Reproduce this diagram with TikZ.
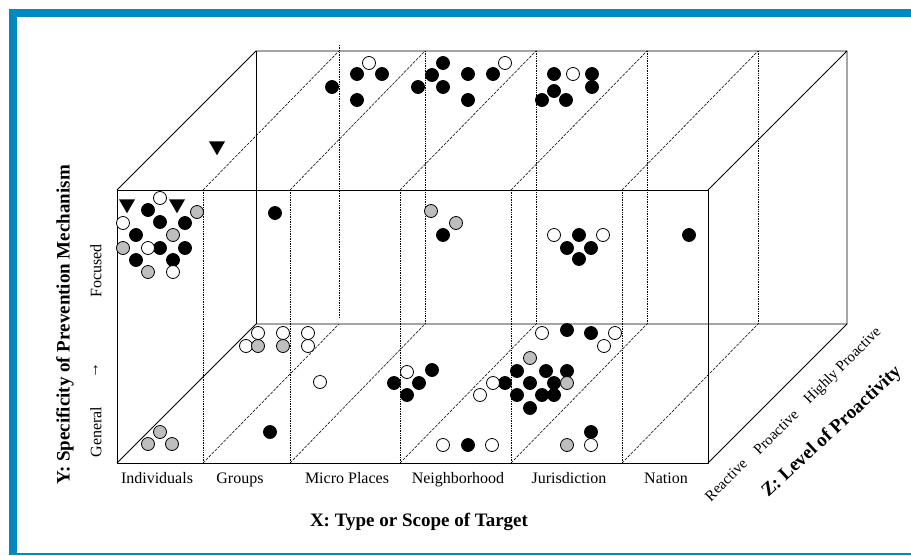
\documentclass[tikz,border=0pt]{standalone}
\usepackage{fontspec}
\setmainfont{Liberation Serif}
\usetikzlibrary{shapes.geometric}
\definecolor{frameblue}{RGB}{0,137,190}
\definecolor{dotgray}{RGB}{190,190,190}
\begin{document}
\begin{tikzpicture}[x=1pt,y=-1pt,
  edge/.style={line width=0.9pt, line join=round},
  vdiv/.style={line width=0.7pt, densely dotted},
  ddiv/.style={line width=0.55pt, dash pattern=on 3pt off 1.2pt},
  dot/.style={circle, draw=black, line width=0.8pt, minimum size=13pt, inner sep=0pt},
  bk/.style={dot, fill=black},
  wh/.style={dot, fill=white},
  gr/.style={dot, fill=dotgray},
  tri/.style={regular polygon, regular polygon sides=3, shape border rotate=180, fill=black, minimum size=18.5pt, inner sep=0pt},
  xlab/.style={font=\fontsize{16}{18}\selectfont, anchor=base},
  zlab/.style={font=\fontsize{15}{17}\selectfont, rotate=45},
  title/.style={font=\fontsize{19}{21}\selectfont\bfseries}
]
\useasboundingbox (0,0) rectangle (911,555);
% frame
\fill[frameblue] (9,9) rectangle (911,17);
\fill[frameblue] (9,9) rectangle (17,555);
\fill[frameblue] (9,552.5) rectangle (911,555);

\foreach \i/\f/\b in {0/117/256,1/203/339,2/290/425,3/400/536,4/511/647,5/622/758,6/708/847} {
  \coordinate (ft\i) at (\f,190);
  \coordinate (fb\i) at (\f,463);
  \coordinate (bt\i) at (\b,51);
  \coordinate (bb\i) at (\b,324);
}
\coordinate (extop) at (339,45);
\coordinate (exbot) at (339,318);

% dividers
\foreach \i in {1,...,5} {
  \draw[vdiv] (ft\i) -- (fb\i);
  \draw[ddiv] (ft\i) -- (bt\i);
  \draw[ddiv] (fb\i) -- (bb\i);
}
\foreach \i in {2,...,5} {\draw[vdiv] (bt\i) -- (bb\i);}
\draw[vdiv] (extop) -- (exbot);

% box edges
\draw[edge] (fb0) -- (ft0) -- (ft6) -- (fb6) -- cycle;
\draw[edge] (ft0) -- (bt0) -- (bt6) -- (ft6);
\draw[edge] (bt6) -- (bb6) -- (fb6);
\draw[edge] (fb0) -- (bb0) -- (bb6);
\draw[line width=0.7pt] (bt0) -- (bb0);

% triangles
\node[tri] (tA) at (127,204) {};
\node[tri] (tB) at (177,204) {};
\node[tri] (tC) at (217,146) {};

% black dots
\foreach \x/\y [count=\n] in {148/210,160/222,185/223,136/235,160/248,185/248,136/260,173/260,
  275/213,
  332/87,357/74,382/74,357/100,418/87,443/63,432/75,443/87,468/74,468/100,493/74,
  554/74,592/74,592/87,554/91,542/100,566/100,
  443/235,579/235,567/248,591/248,579/259,689/235,
  432/370,394/383,419/383,407/395,505/383,
  517/371,546/371,567/371,530/383,554/383,517/395,542/395,554/395,530/408,
  567/330,591/333,468/445,591/432,270/432}
  \node[bk] (b\n) at (\x,\y) {};

% white dots
\foreach \x/\y [count=\n] in {160/198,123/223,148/248,173/272,
  369/63,505/63,573/74,
  554/235,603/235,
  258/333,246/346,283/333,308/333,308/346,320/382,
  407/372,493/383,480/395,
  542/333,615/333,604/346,
  443/445,492/445,591/445}
  \node[wh] (w\n) at (\x,\y) {};

% gray dots
\foreach \x/\y [count=\n] in {197/212,173/235,123/248,148/272,
  431/211,456/223,
  258/346,283/346,
  530/358,567/383,567/445,
  160/432,148/444,172/444}
  \node[gr] (g\n) at (\x,\y) {};

% X labels
\node[xlab] (l1) at (157,483) {Individuals};
\node[xlab] (l2) at (240,483) {Groups};
\node[xlab] (l3) at (347,483) {Micro Places};
\node[xlab] (l4) at (458,483) {Neighborhood};
\node[xlab] (l5) at (569,483) {Jurisdiction};
\node[xlab] (l6) at (666,483) {Nation};
\node[title, anchor=base] (xt) at (419,526) {X: Type or Scope of Target};

% Y labels
\node[title, rotate=90] (yt) at (65,325) {Y: Specificity of Prevention Mechanism};
\node[font=\fontsize{16}{18}\selectfont, rotate=90] (yg) at (96,432) {General};
\node[font=\fontsize{16}{18}\selectfont, rotate=90] (ya) at (96,370) {→};
\node[font=\fontsize{16}{18}\selectfont, rotate=90] (yf) at (96,271) {Focused};

% Z labels
\node[zlab] (z1) at (726,480) {Reactive};
\node[zlab] (z2) at (776,432) {Proactive};
\node[zlab] (z3) at (843,366) {Highly Proactive};
\node[title, rotate=43] (zt) at (832,432) {Z: Level of Proactivity};
\end{tikzpicture}
\end{document}
